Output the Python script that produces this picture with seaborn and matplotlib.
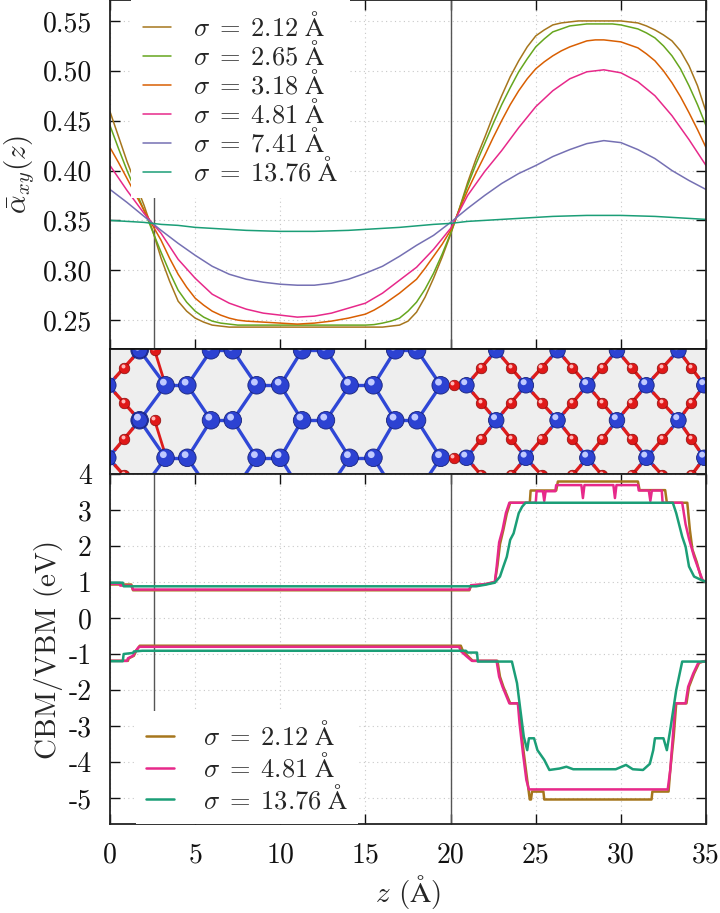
import numpy as np
import pandas as pd
import matplotlib
matplotlib.use("Agg")
import matplotlib.pyplot as plt
from matplotlib.ticker import FuncFormatter, MultipleLocator
import seaborn as sns

sns.set_theme(style="ticks")
plt.rcParams['font.family'] = ['cmr10', 'DejaVu Serif']
plt.rcParams['mathtext.fontset'] = 'cm'
plt.rcParams['axes.unicode_minus'] = False
plt.rcParams['axes.formatter.use_mathtext'] = True

# ---- top panel: layer averaged alpha_xy(z), one curve per smearing width
sigmas = ["2.12", "2.65", "3.18", "4.81", "7.41", "13.76"]
z_fine = [i * 0.5 for i in range(71)]     # 0, 0.5, ..., 35 (sharp curves)
z_coarse = list(range(36))                # 0, 1, ..., 35 (smooth curves)
alpha_212 = [0.459, 0.434, 0.409, 0.387, 0.365, 0.340, 0.312, 0.289, 0.269, 0.259, 0.252, 0.248, 0.245, 0.244,
             0.243, 0.243, 0.243, 0.243, 0.243, 0.243, 0.243, 0.243, 0.243, 0.243, 0.243, 0.243, 0.243,
             0.243, 0.243, 0.243, 0.243, 0.243, 0.243,
             0.244, 0.245, 0.249, 0.258, 0.273, 0.292, 0.313, 0.336, 0.361, 0.388, 0.412, 0.433, 0.455,
             0.475, 0.494, 0.510, 0.524, 0.535, 0.541, 0.546, 0.548, 0.549, 0.550, 0.550, 0.550, 0.550,
             0.550, 0.550, 0.549, 0.548, 0.545, 0.541, 0.536, 0.530, 0.520, 0.505, 0.485, 0.459]
alpha_265 = [0.445, 0.422, 0.400, 0.380, 0.360, 0.339, 0.318, 0.298, 0.280, 0.268, 0.259, 0.253, 0.249, 0.247,
             0.246, 0.245, 0.245, 0.245, 0.245, 0.245, 0.245, 0.245, 0.245, 0.245, 0.245, 0.245, 0.245,
             0.245, 0.245, 0.245, 0.245, 0.2455, 0.247,
             0.249, 0.252, 0.259, 0.268, 0.281, 0.297, 0.316, 0.337, 0.361, 0.385, 0.407, 0.427, 0.447,
             0.466, 0.483, 0.499, 0.512, 0.524, 0.532, 0.539, 0.542, 0.545, 0.546, 0.547, 0.547, 0.547,
             0.547, 0.546, 0.544, 0.542, 0.538, 0.533, 0.525, 0.515, 0.502, 0.485, 0.466, 0.445]
alpha_318 = [0.423, 0.408, 0.392, 0.376, 0.360, 0.345, 0.330, 0.312, 0.296, 0.283, 0.272, 0.265, 0.259, 0.255,
             0.252, 0.250, 0.249, 0.2485, 0.248, 0.2475, 0.247, 0.2465, 0.246, 0.2465, 0.247, 0.248, 0.249,
             0.2505, 0.252, 0.254, 0.256, 0.260, 0.265,
             0.271, 0.277, 0.284, 0.291, 0.302, 0.314, 0.326, 0.340, 0.360, 0.380, 0.398, 0.415, 0.433,
             0.450, 0.466, 0.480, 0.492, 0.502, 0.509, 0.515, 0.520, 0.524, 0.527, 0.530, 0.531, 0.531,
             0.530, 0.529, 0.526, 0.523, 0.517, 0.510, 0.500, 0.488, 0.474, 0.458, 0.441, 0.423]
alpha_481 = [0.405, 0.380, 0.357, 0.337, 0.311, 0.292, 0.276, 0.267, 0.261, 0.257, 0.255, 0.253,
             0.254, 0.257, 0.262, 0.267, 0.277, 0.290, 0.303, 0.321, 0.342, 0.375, 0.399, 0.420,
             0.443, 0.464, 0.480, 0.492, 0.499, 0.501, 0.498, 0.489, 0.475, 0.455, 0.431, 0.405]
alpha_741 = [0.381, 0.368, 0.354, 0.340, 0.327, 0.315, 0.304, 0.296, 0.291, 0.288, 0.286, 0.285,
             0.285, 0.287, 0.291, 0.297, 0.304, 0.314, 0.325, 0.335, 0.348, 0.362, 0.375, 0.387,
             0.397, 0.405, 0.414, 0.421, 0.427, 0.430, 0.428, 0.421, 0.412, 0.400, 0.390, 0.381]
alpha_1376 = [0.350, 0.349, 0.348, 0.346, 0.345, 0.343, 0.342, 0.341, 0.340, 0.3395, 0.339, 0.339,
              0.339, 0.3395, 0.340, 0.341, 0.342, 0.343, 0.3445, 0.346, 0.347, 0.349, 0.350, 0.351,
              0.352, 0.353, 0.354, 0.3545, 0.355, 0.355, 0.355, 0.3545, 0.354, 0.353, 0.352, 0.351]
alphas = [alpha_212, alpha_265, alpha_318, alpha_481, alpha_741, alpha_1376]
alpha_z = [z_fine, z_fine, z_fine, z_coarse, z_coarse, z_coarse]

# ---- bottom panel: local CBM / VBM for three widths
cbm_212_z = [0, 1.25, 1.35, 21.1, 21.2, 22.0, 22.6, 22.75, 22.9, 23.1, 23.3, 23.5, 24.65, 24.7, 26.2, 26.3,
             31.0, 31.1, 32.6, 32.7, 33.9, 34.05, 34.2, 34.45, 34.75, 35]
cbm_212_e = [0.93, 0.93, 0.77, 0.77, 0.90, 0.93, 1.00, 1.45, 2.05, 2.45, 2.90, 3.20, 3.20, 3.54, 3.54, 3.79,
             3.79, 3.55, 3.55, 3.20, 3.20, 2.45, 1.90, 1.56, 1.05, 1.00]
vbm_212_z = [0, 1.05, 1.1, 1.4, 1.55, 1.75, 20.6, 20.7, 21.0, 21.3, 22.75, 22.9, 23.1, 23.5, 24.0, 24.1,
             24.3, 24.5, 24.65, 24.72, 24.78, 25.45, 25.5, 31.8, 31.85, 32.8, 32.9, 33.1, 33.25, 33.85,
             34.0, 34.3, 34.6, 35]
vbm_212_e = [-1.19, -1.19, -1.12, -1.05, -0.90, -0.77, -0.77, -0.89, -1.05, -1.19, -1.19, -1.63, -1.91,
             -2.37, -2.37, -2.93, -3.76, -4.50, -5.04, -5.04, -4.82, -4.82, -5.04, -5.04, -4.82, -4.82,
             -4.22, -3.30, -2.37, -2.37, -1.91, -1.54, -1.24, -1.19]
cbm_481_z = [0, 0.55, 0.6, 1.25, 1.35, 21.1, 21.2, 22.0, 22.6, 22.7, 22.85, 23.05, 23.25, 23.45, 25.0,
             25.05, 25.42, 25.5, 25.58, 26.15, 26.2, 27.68, 27.77, 27.86, 29.56, 29.65, 29.74, 31.0,
             31.05, 31.64, 31.73, 31.82, 32.4, 32.45, 33.6, 33.8, 34.0, 34.3, 34.6, 34.8, 35]
cbm_481_e = [0.95, 0.95, 0.90, 0.90, 0.79, 0.79, 0.91, 0.94, 1.00, 1.40, 2.10, 2.45, 2.92, 3.20, 3.20,
             3.52, 3.52, 3.25, 3.52, 3.52, 3.69, 3.69, 3.33, 3.69, 3.69, 3.33, 3.69, 3.69,
             3.54, 3.54, 3.25, 3.54, 3.54, 3.20, 3.20, 2.60, 2.20, 1.70, 1.30, 1.05, 1.00]
vbm_481_z = [0, 1.0, 1.05, 1.35, 1.5, 1.7, 20.5, 20.6, 20.95, 21.25, 22.7, 22.85, 23.05, 23.45, 23.95,
             24.05, 24.25, 24.45, 24.6, 32.75, 32.9, 33.05, 33.2, 33.8, 33.95, 34.25, 34.55, 35]
vbm_481_e = [-1.19, -1.19, -1.12, -1.05, -0.92, -0.80, -0.80, -0.92, -1.07, -1.19, -1.19, -1.63, -1.91,
             -2.37, -2.37, -2.93, -3.76, -4.50, -4.76, -4.76, -4.22, -3.30, -2.37, -2.37, -1.91, -1.54,
             -1.24, -1.19]
cbm_1376_z = [0, 0.75, 0.8, 21.5, 22.0, 22.6, 22.9, 23.1, 23.3, 23.5, 23.7, 24.0, 24.2, 24.4, 33.05,
              33.25, 33.6, 33.8, 34.0, 34.3, 34.7, 35]
cbm_1376_e = [0.98, 0.98, 0.88, 0.88, 0.92, 0.98, 1.15, 1.43, 1.70, 2.17, 2.35, 2.91, 3.09, 3.20, 3.20,
              2.91, 2.26, 1.98, 1.43, 1.15, 1.06, 1.00]
vbm_1376_z = [0, 0.75, 0.8, 1.35, 1.4, 1.9, 20.9, 21.0, 21.55, 21.6, 23.6, 23.9, 24.1, 24.3, 24.5, 24.6,
              24.9, 25.1, 25.5, 25.8, 26.4, 26.8, 27.2, 29.7, 30.3, 30.7, 31.3, 31.7, 31.9, 32.0, 32.5,
              32.7, 32.9, 33.25, 33.6, 35]
vbm_1376_e = [-1.20, -1.20, -1.00, -0.97, -0.93, -0.91, -0.91, -0.96, -0.96, -1.21, -1.21, -1.81, -2.56,
              -3.30, -3.67, -3.34, -3.34, -3.67, -3.94, -4.22, -4.18, -4.13, -4.20, -4.20, -4.08, -4.20,
              -4.22, -4.05, -3.67, -3.34, -3.34, -3.67, -3.10, -2.00, -1.21, -1.21]

# ---- middle panel: atom positions of the interface cell (z in A, y as fraction of panel)
hc_rowA_z = [1.74, 5.93, 7.21, 11.28, 12.68, 16.75, 18.03]
hc_rowB_z = [3.26, 4.54, 8.61, 10.0, 14.07, 15.47, 19.42]
dm_rowA_z = [1.74, 22.68, 26.28, 29.77, 33.38]
dm_rowB_z = [-0.1, 20.93, 24.42, 28.03, 31.5, 34.9]
rowA_y = [0.99, 0.43, -0.15]
rowB_y = [0.71, 0.13]
extra_o_z = [2.62, 2.62]
extra_o_y = [0.99, 0.43]

pal = sns.color_palette("Dark2", 8)
top_colors = [pal[6], pal[4], pal[1], pal[3], pal[2], pal[0]]
bot_colors = [pal[6], pal[3], pal[0]]


def sig_label(s):
    return r"$\sigma\;=\;%s\;\mathrm{\AA}$" % s


fig = plt.figure(figsize=(7.2, 9.13), dpi=100)
ax_t = fig.add_axes([0.1528, 0.6177, 0.8278, 0.3823])
ax_m = fig.add_axes([0.1528, 0.4808, 0.8278, 0.1369])
ax_b = fig.add_axes([0.1528, 0.0975, 0.8278, 0.3834])

vline_z = [2.6, 20.0]

# top
for lab, zz, vals, col in zip(sigmas, alpha_z, alphas, top_colors):
    sns.lineplot(x=zz, y=vals, color=col, lw=1.1, estimator=None, sort=False, ax=ax_t,
                 label=sig_label(lab))
for zv in vline_z:
    ax_t.axvline(zv, color="#555555", lw=1.0, zorder=1)
ax_t.set_xlim(0, 35)
ax_t.set_ylim(0.221, 0.571)
ax_t.yaxis.set_major_locator(MultipleLocator(0.05))
ax_t.yaxis.set_major_formatter(FuncFormatter(lambda v, p: "%.2f" % v))
ax_t.set_ylabel(r"$\bar{\alpha}_{xy}(z)$", fontsize=21, labelpad=4)
ax_t.tick_params(labelbottom=False)
leg = ax_t.legend(loc="upper left", bbox_to_anchor=(0.036, 1.0), fontsize=19, handlelength=1.05,
                  handletextpad=0.85, labelspacing=0.0, borderpad=0.45, borderaxespad=0.0,
                  frameon=True, fancybox=False, framealpha=1, facecolor="white", edgecolor="none")
leg.set_zorder(5)

# middle: crystal structure
ax_m.set_facecolor("#eeeeee")
ax_m.set_xlim(0, 35)
ax_m.set_ylim(0, 1)
ax_m.set_xticks([])
ax_m.set_yticks([])
px_z = 17.03
px_y = 124.0
blue_bond = "#2f47d6"
red_bond = "#dd1c1c"

hc = [(z, y) for z in hc_rowA_z for y in rowA_y] + [(z, y) for z in hc_rowB_z for y in rowB_y]
for i in range(len(hc)):
    for j in range(i + 1, len(hc)):
        d = np.hypot((hc[i][0] - hc[j][0]) * px_z, (hc[i][1] - hc[j][1]) * px_y)
        if d < 48:
            ax_m.plot([hc[i][0], hc[j][0]], [hc[i][1], hc[j][1]], color=blue_bond, lw=2.4,
                      solid_capstyle="round", zorder=2)

dA = [(z, y) for z in dm_rowA_z for y in rowA_y]
dB = [(z, y) for z in dm_rowB_z for y in rowB_y]
o_pts = []
for a in dA:
    for b in dB:
        d = np.hypot((a[0] - b[0]) * px_z, (a[1] - b[1]) * px_y)
        if d < 50:
            mz, my = (a[0] + b[0]) / 2, (a[1] + b[1]) / 2
            o_pts.append((mz, my))
            for p in (a, b):
                kz, ky = p[0] + 0.45 * (mz - p[0]), p[1] + 0.45 * (my - p[1])
                ax_m.plot([p[0], kz], [p[1], ky], color=blue_bond, lw=2.4, zorder=2)
                ax_m.plot([kz, mz], [ky, my], color=red_bond, lw=2.4, zorder=2)
# interface Si-O-Si bridges
for y in rowB_y:
    a, b = (19.42, y), (20.93, y)
    mz = (a[0] + b[0]) / 2
    o_pts.append((mz, y))
    ax_m.plot([a[0], mz - 0.2], [y, y], color=blue_bond, lw=2.4, zorder=2)
    ax_m.plot([mz - 0.2, b[0]], [y, y], color=red_bond, lw=2.4, zorder=2)
for z, y in zip(extra_o_z, extra_o_y):
    o_pts.append((z, y))
    ax_m.plot([z, 3.26], [y, y - 0.28], color=red_bond, lw=2.0, zorder=2)

si_z = [p[0] for p in hc] + [p[0] for p in dA + dB]
si_y = [p[1] for p in hc] + [p[1] for p in dA + dB]
si_s = np.array([160] * len(hc) + [125] * len(dA + dB))
ax_m.scatter(si_z, si_y, s=si_s, color="#2c42d2", edgecolor="#18237a", lw=0.6, zorder=3)
ax_m.scatter(np.array(si_z) - 0.13, np.array(si_y) + 0.025, s=si_s * 0.15,
             color="#c0caff", lw=0, zorder=4)
o_z = [p[0] for p in o_pts]
o_y = [p[1] for p in o_pts]
ax_m.scatter(o_z, o_y, s=58, color="#e01818", edgecolor="#8a0c0c", lw=0.5, zorder=3)
ax_m.scatter(np.array(o_z) - 0.08, np.array(o_y) + 0.018, s=8, color="#ffb8b8", lw=0, zorder=4)
for sp in ax_m.spines.values():
    sp.set_linewidth(1.3)
    sp.set_color("#111111")
    sp.set_zorder(6)

# bottom
bands = [(sigmas[0], cbm_212_z, cbm_212_e, vbm_212_z, vbm_212_e),
         (sigmas[3], cbm_481_z, cbm_481_e, vbm_481_z, vbm_481_e),
         (sigmas[5], cbm_1376_z, cbm_1376_e, vbm_1376_z, vbm_1376_e)]
for (lab, cz, ce, vz, ve), col in zip(bands, bot_colors):
    sns.lineplot(x=cz, y=ce, color=col, lw=1.8, estimator=None, sort=False, ax=ax_b,
                 label=sig_label(lab))
    sns.lineplot(x=vz, y=ve, color=col, lw=1.8, estimator=None, sort=False, ax=ax_b, legend=False)
for zv in vline_z:
    ax_b.axvline(zv, color="#555555", lw=1.0, zorder=1)
ax_b.set_xlim(0, 35)
ax_b.set_ylim(-5.72, 4)
ax_b.yaxis.set_major_locator(MultipleLocator(1))
ax_b.yaxis.set_major_formatter(FuncFormatter(lambda v, p: "%d" % round(v)))
ax_b.xaxis.set_major_formatter(FuncFormatter(lambda v, p: "%d" % round(v)))
ax_b.set_ylabel("CBM/VBM (eV)", fontsize=21, labelpad=4)
ax_b.set_xlabel(r"$z$ ($\mathrm{\AA}$)", fontsize=21, labelpad=3)
leg2 = ax_b.legend(loc="lower left", bbox_to_anchor=(0.043, 0.0), fontsize=19, handlelength=1.05,
                   handletextpad=1.1, labelspacing=0.1, borderpad=0.4, borderaxespad=0.0,
                   frameon=True, fancybox=False, framealpha=1, facecolor="white", edgecolor="none")
leg2.set_zorder(5)

for ax in (ax_t, ax_b):
    ax.xaxis.set_major_locator(MultipleLocator(5))
    ax.grid(True, ls=(0, (1, 3)), color="#c8c8c8", lw=0.8)
    ax.set_axisbelow(True)
    ax.tick_params(direction="in", top=True, right=True, length=7, width=1.0,
                   labelsize=20, pad=13, colors="#111111")
    for sp in ax.spines.values():
        sp.set_linewidth(1.3)
        sp.set_color("#222222")

fig.savefig("out.png", dpi=100)
